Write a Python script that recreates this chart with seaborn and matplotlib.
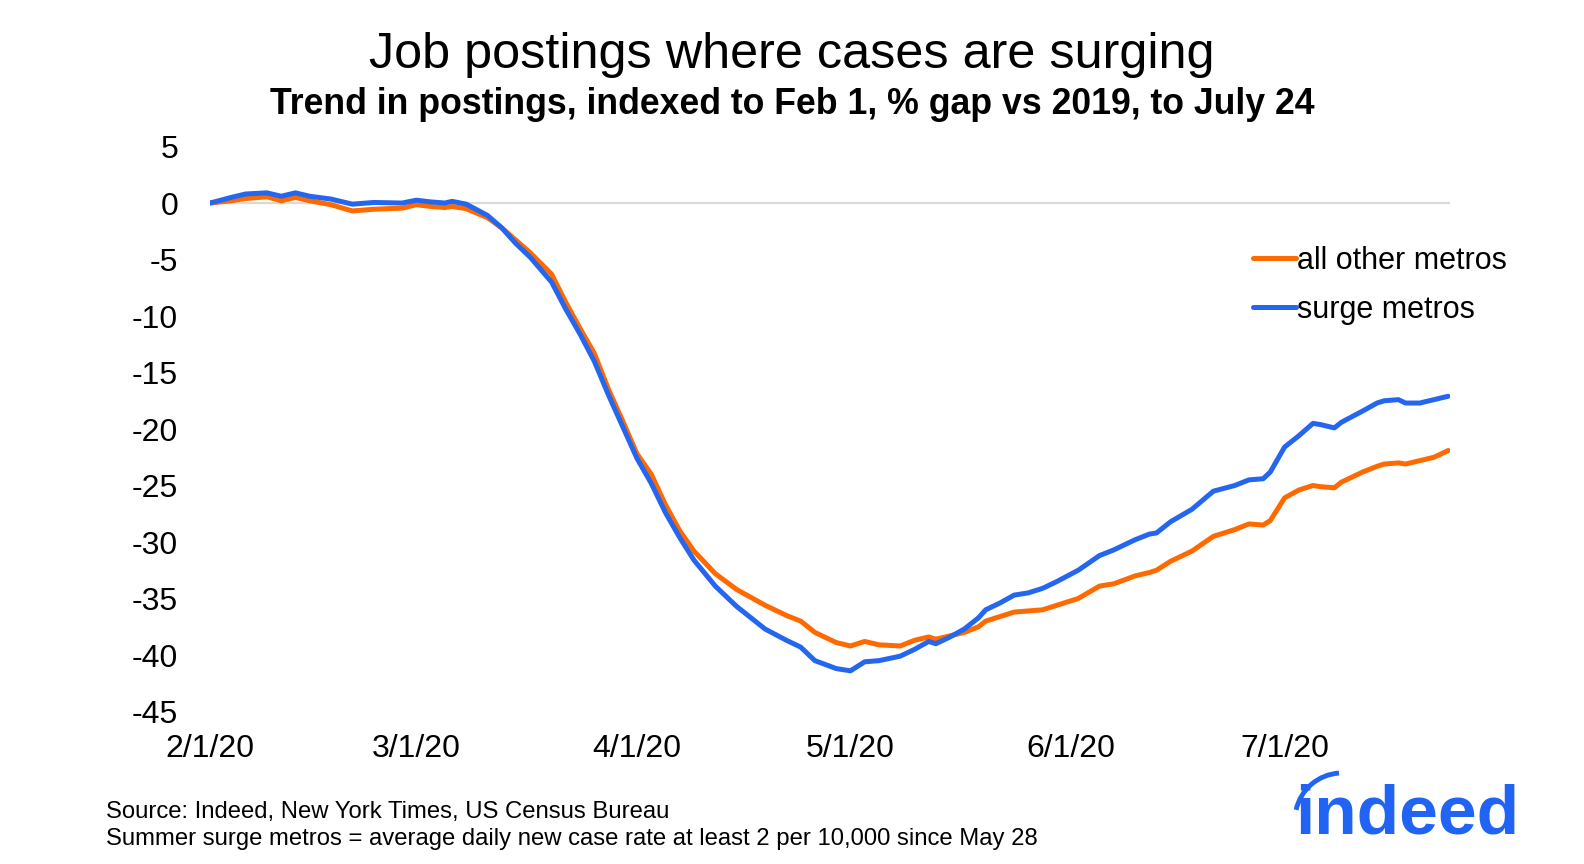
import pandas as pd
import matplotlib.pyplot as plt
import seaborn as sns
from matplotlib.patches import Arc

sns.set_style("white")
plt.rcParams['font.family'] = ['Liberation Sans', 'DejaVu Sans']
plt.rcParams['text.color'] = 'black'
plt.rcParams['xtick.color'] = 'black'
plt.rcParams['ytick.color'] = 'black'

# dates (daily series, read every ~2-3 days)
dates = ["2020-02-01", "2020-02-04", "2020-02-06", "2020-02-09", "2020-02-11", "2020-02-13",
         "2020-02-15", "2020-02-18", "2020-02-21", "2020-02-24", "2020-02-28", "2020-03-01",
         "2020-03-03", "2020-03-05", "2020-03-06", "2020-03-08", "2020-03-11", "2020-03-13",
         "2020-03-15", "2020-03-17", "2020-03-20", "2020-03-22", "2020-03-24", "2020-03-26",
         "2020-03-28", "2020-03-30", "2020-04-01", "2020-04-03", "2020-04-05", "2020-04-07",
         "2020-04-09", "2020-04-12", "2020-04-15", "2020-04-17", "2020-04-19", "2020-04-22",
         "2020-04-24", "2020-04-26", "2020-04-29", "2020-05-01", "2020-05-03", "2020-05-05",
         "2020-05-08", "2020-05-10", "2020-05-12", "2020-05-13", "2020-05-15", "2020-05-17",
         "2020-05-19", "2020-05-20", "2020-05-22", "2020-05-24", "2020-05-26", "2020-05-28",
         "2020-05-30", "2020-06-02", "2020-06-05", "2020-06-07", "2020-06-10", "2020-06-12",
         "2020-06-13", "2020-06-15", "2020-06-18", "2020-06-21", "2020-06-24", "2020-06-26",
         "2020-06-28", "2020-06-29", "2020-07-01", "2020-07-03", "2020-07-05", "2020-07-06",
         "2020-07-08", "2020-07-09", "2020-07-12", "2020-07-14", "2020-07-15", "2020-07-17",
         "2020-07-18", "2020-07-20", "2020-07-22", "2020-07-24"]

surge = [0.0, 0.5, 0.8, 0.9, 0.6, 0.9, 0.6, 0.35, -0.1, 0.05, 0.0, 0.25,
         0.1, 0.0, 0.15, -0.1, -1.1, -2.2, -3.6, -4.8, -7.0, -9.4, -11.6, -14.0,
         -17.0, -19.8, -22.6, -24.8, -27.4, -29.6, -31.6, -33.9, -35.7, -36.7, -37.7, -38.7,
         -39.3, -40.5, -41.2, -41.4, -40.6, -40.5, -40.1, -39.5, -38.8, -39.0, -38.4, -37.7,
         -36.7, -36.0, -35.4, -34.7, -34.5, -34.1, -33.5, -32.5, -31.2, -30.7, -29.8, -29.3,
         -29.2, -28.2, -27.1, -25.5, -25.0, -24.5, -24.4, -23.8, -21.6, -20.6, -19.5, -19.6,
         -19.9, -19.4, -18.4, -17.7, -17.5, -17.4, -17.7, -17.7, -17.4, -17.1]

other = [0.0, 0.2, 0.4, 0.55, 0.2, 0.5, 0.2, -0.15, -0.7, -0.55, -0.45, -0.15,
         -0.3, -0.4, -0.3, -0.5, -1.3, -2.2, -3.3, -4.4, -6.3, -8.8, -11.1, -13.3,
         -16.5, -19.3, -22.2, -24.0, -26.7, -29.0, -30.8, -32.8, -34.2, -34.9, -35.6, -36.5,
         -37.0, -38.0, -38.9, -39.2, -38.8, -39.1, -39.2, -38.7, -38.4, -38.6, -38.3, -38.0,
         -37.5, -37.0, -36.6, -36.2, -36.1, -36.0, -35.6, -35.0, -33.9, -33.7, -33.0, -32.7,
         -32.5, -31.7, -30.8, -29.5, -28.9, -28.4, -28.5, -28.1, -26.1, -25.4, -25.0, -25.1,
         -25.2, -24.7, -23.8, -23.3, -23.1, -23.0, -23.1, -22.8, -22.5, -21.9]

series_names = ["all other metros", "surge metros"]
tick_dates = ["2020-02-01", "2020-03-01", "2020-04-01", "2020-05-01", "2020-06-01", "2020-07-01"]
tick_labels = ["2/1/20", "3/1/20", "4/1/20", "5/1/20", "6/1/20", "7/1/20"]
y_ticks = [5, 0, -5, -10, -15, -20, -25, -30, -35, -40, -45]

colors = {"all other metros": "#FF6A00", "surge metros": "#2566F0"}

df = pd.DataFrame({
    "date": pd.to_datetime(dates + dates),
    "value": other + surge,
    "series": [series_names[0]] * len(dates) + [series_names[1]] * len(dates),
})

fig = plt.figure(figsize=(15.84, 8.64), dpi=100)
ax = fig.add_axes([0.1326, 0.1765, 0.7828, 0.6539])

ax.axhline(0, color="#D9D9D9", lw=1.6, zorder=0)
sns.lineplot(data=df, x="date", y="value", hue="series", hue_order=series_names,
             palette=colors, linewidth=3.6, ax=ax)

ax.set_xlim(pd.Timestamp("2020-02-01"), pd.Timestamp("2020-07-24 06:00"))
ax.set_ylim(-45, 5)
ax.set_yticks(y_ticks)
ax.set_yticklabels([str(v) for v in y_ticks])
ax.set_xticks(pd.to_datetime(tick_dates))
ax.set_xticklabels(tick_labels)
ax.tick_params(axis="y", length=0, pad=23, labelsize=23)
ax.tick_params(axis="x", length=0, pad=16, labelsize=23)
ax.set_xlabel("")
ax.set_ylabel("")
for s in ax.spines.values():
    s.set_visible(False)

ax.legend(loc="upper left", bbox_to_anchor=(1253 / 1584, 1 - 246 / 864),
          bbox_transform=fig.transFigure, frameon=False, fontsize=22,
          handlelength=1.4, handletextpad=0.05, labelspacing=0.62,
          borderpad=0, borderaxespad=0)

# titles
fig.text(0.5, 1 - 68 / 864, "Job postings where cases are surging",
         ha="center", va="baseline", fontsize=36.3)
fig.text(0.5, 1 - 114 / 864, "Trend in postings, indexed to Feb 1, % gap vs 2019, to July 24",
         ha="center", va="baseline", fontsize=25.7, fontweight="bold")

# footnotes
fig.text(106 / 1584, 1 - 818 / 864, "Source: Indeed, New York Times, US Census Bureau",
         ha="left", va="baseline", fontsize=17.2)
fig.text(106 / 1584, 1 - 845 / 864,
         "Summer surge metros = average daily new case rate at least 2 per 10,000 since May 28",
         ha="left", va="baseline", fontsize=17.2)

# indeed logo
fig.text(1295 / 1584, 1 - 834 / 864, "indeed", ha="left", va="baseline",
         fontsize=50, fontweight="bold", color="#2164F3")
fig.patches.append(Arc((1342 / 1584, 1 - 820 / 864), 94 / 1584, 94 / 864,
                       theta1=92, theta2=158, lw=3.5, color="#2164F3",
                       transform=fig.transFigure, figure=fig))

fig.savefig("out.png", dpi=100)
